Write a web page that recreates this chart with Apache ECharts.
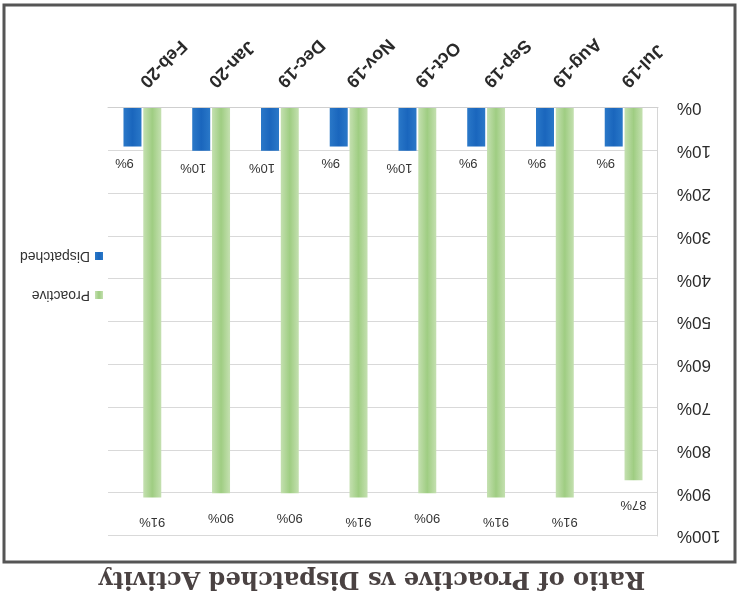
<!DOCTYPE html>
<html lang="en">
<head>
    <meta charset="utf-8">
    <title>Ratio of Proactive vs Dispatched Activity</title>
    <script src="https://cdn.jsdelivr.net/npm/echarts@6/dist/echarts.min.js"></script>
    <style>
        html, body { margin: 0; padding: 0; background: #fff; }
        /* the photo is upside down, so the whole chart is drawn upright and turned */
        #ratio { width: 744px; height: 604px; transform: rotate(180deg); }
    </style>
</head>
<body>
<div id="ratio"></div>
<script type="text/javascript">
    var months = ['Jul-19', 'Aug-19', 'Sep-19', 'Oct-19', 'Nov-19', 'Dec-19', 'Jan-20', 'Feb-20'];
    var proactive = [87, 91, 91, 90, 91, 90, 90, 91];
    var dispatched = [9, 9, 9, 10, 9, 10, 10, 9];
    var yTicks = [0, 10, 20, 30, 40, 50, 60, 70, 80, 90, 100];

    var myChart = echarts.init(document.getElementById('ratio'));

    var greenFill = new echarts.graphic.LinearGradient(0, 0, 1, 0, [
        {offset: 0, color: '#c4e0b0'},
        {offset: 0.5, color: '#9fcd82'},
        {offset: 1, color: '#c4e0b0'}
    ]);
    var blueFill = new echarts.graphic.LinearGradient(0, 0, 1, 0, [
        {offset: 0, color: '#2a78c8'},
        {offset: 0.5, color: '#1a66bd'},
        {offset: 1, color: '#2a78c8'}
    ]);

    var option = {
        backgroundColor: '#fff',
        animation: false,
        title: {
            text: 'Ratio of Proactive vs Dispatched Activity',
            left: 'center',
            top: 9,
            textStyle: {
                fontFamily: 'DejaVu Serif',
                fontWeight: 'bold',
                fontSize: 24,
                color: '#4a4242'
            }
        },
        graphic: [{
            type: 'rect',
            shape: {x: 9, y: 42, width: 731, height: 557},
            style: {fill: 'none', stroke: '#555', lineWidth: 3}
        }],
        legend: {
            orient: 'vertical',
            left: 636,
            top: 297,
            itemWidth: 8,
            itemHeight: 8,
            itemGap: 25,
            icon: 'rect',
            data: ['Proactive', 'Dispatched'],
            textStyle: {fontFamily: 'Liberation Sans', fontSize: 14, color: '#333'}
        },
        grid: {left: 86, right: 108, top: 68, bottom: 108},
        xAxis: {
            type: 'category',
            data: months,
            axisLine: {lineStyle: {color: '#cfcfcf'}},
            axisTick: {show: false},
            axisLabel: {
                interval: 0,
                rotate: 45,
                margin: 24,
                fontFamily: 'Liberation Sans',
                fontWeight: 'bold',
                fontSize: 18,
                color: '#2a2a2a'
            }
        },
        yAxis: {
            type: 'value',
            min: yTicks[0],
            max: yTicks[yTicks.length - 1],
            interval: 10,
            axisLine: {show: true, lineStyle: {color: '#d6d6d6'}},
            axisTick: {show: false},
            splitLine: {lineStyle: {color: '#d9d9d9'}},
            axisLabel: {
                formatter: '{value}%',
                margin: 19,
                fontFamily: 'Liberation Sans',
                fontSize: 17,
                color: '#2a2a2a'
            }
        },
        series: [
            {
                name: 'Proactive',
                type: 'bar',
                barWidth: 18,
                barGap: '10%',
                data: proactive,
                itemStyle: {color: greenFill},
                label: {
                    show: true, position: 'top', distance: 18, formatter: '{c}%',
                    fontFamily: 'Liberation Sans', fontSize: 13, color: '#333'
                }
            },
            {
                name: 'Dispatched',
                type: 'bar',
                barWidth: 18,
                data: dispatched,
                itemStyle: {color: blueFill},
                label: {
                    show: true, position: 'top', distance: 10, offset: [8, 0], formatter: '{c}%',
                    fontFamily: 'Liberation Sans', fontSize: 13, color: '#333'
                }
            }
        ]
    };
    myChart.setOption(option);
</script>
</body>
</html>
